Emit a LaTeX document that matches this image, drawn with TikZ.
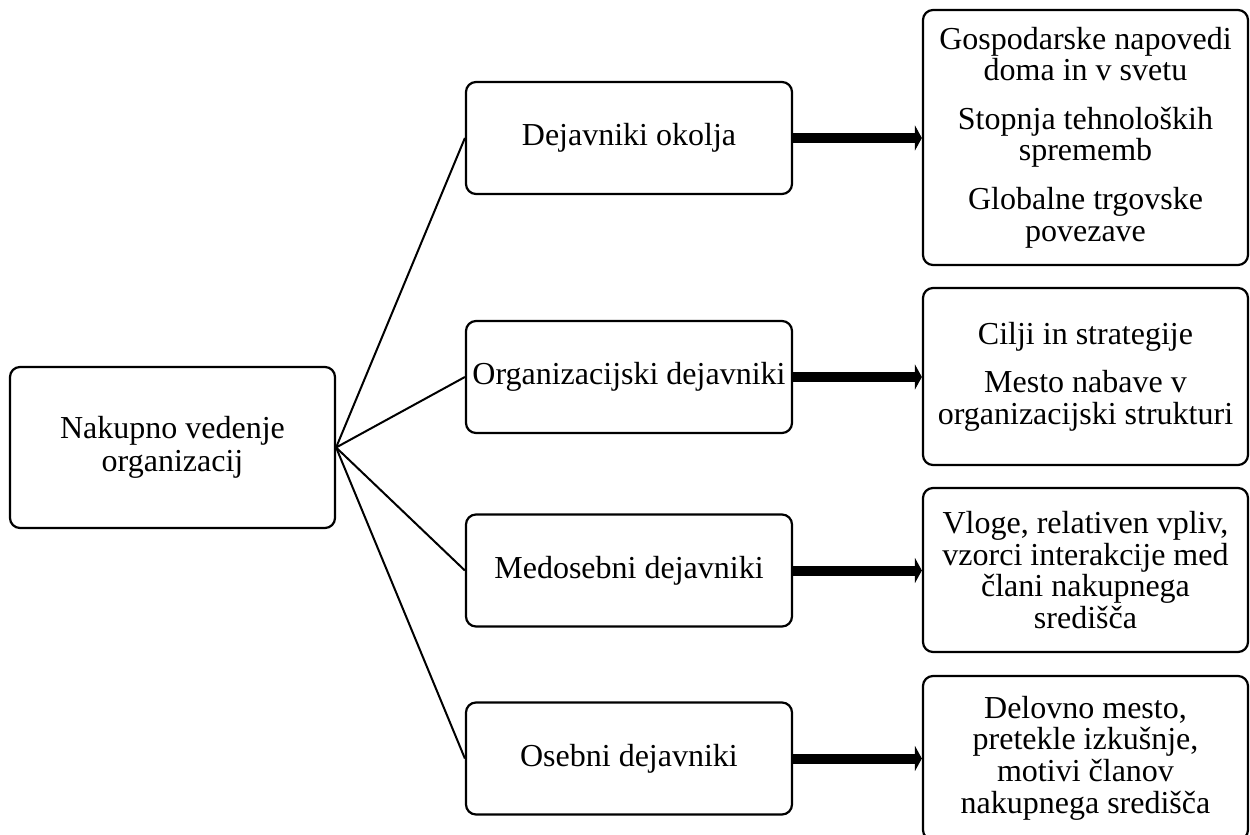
\documentclass[tikz,border=0pt]{standalone}
\usepackage{fontspec}
\setmainfont{Liberation Serif}
\usetikzlibrary{arrows.meta}
\begin{document}
\begin{tikzpicture}[x=0.5pt,y=-0.5pt,
  box/.style={draw, line width=1.1pt, rounded corners=5pt, inner sep=0pt, align=center,
    font=\fontsize{16pt}{15.8pt}\selectfont},
  link/.style={draw, line width=1pt},
  bigarrow/.style={draw, line width=5pt, -{Triangle[length=3.5pt,width=12.5pt]}}]
\path[use as bounding box, clip] (0,0) rectangle (1250,835);
% left box
\node[box, minimum width=162.5pt, minimum height=80.5pt] (main) at (172.5,447.5) {Nakupno vedenje\\[0.7pt]organizacij};
% middle boxes
\node[box, minimum width=163pt, minimum height=56pt] (m1) at (629,138) {Dejavniki okolja};
\node[box, minimum width=163pt, minimum height=56pt] (m2) at (629,377) {Organizacijski dejavniki};
\node[box, minimum width=163pt, minimum height=56pt] (m3) at (629,570.5) {Medosebni dejavniki};
\node[box, minimum width=163pt, minimum height=56pt] (m4) at (629,758.5) {Osebni dejavniki};
% right boxes
\node[box, minimum width=162.5pt, minimum height=127.5pt] (r1) at (1085.5,137.5)
  {Gospodarske napovedi\\doma in v svetu\\[8.5pt]Stopnja tehnoloških\\sprememb\\[8.5pt]Globalne trgovske\\povezave};
\node[box, minimum width=162.5pt, minimum height=88.5pt] (r2) at (1085.5,376.5)
  {Cilji in strategije\\[8.5pt]Mesto nabave v\\organizacijski strukturi};
\node[box, minimum width=162.5pt, minimum height=82pt] (r3) at (1085.5,570)
  {Vloge, relativen vpliv,\\vzorci interakcije med\\člani nakupnega\\središča};
\node[box, minimum width=162.5pt, minimum height=82pt] (r4) at (1085.5,758)
  {Delovno mesto,\\pretekle izkušnje,\\motivi članov\\nakupnega središča};
% connectors
\foreach \m in {m1,m2,m3,m4}
  \draw[link] (main.east) -- (\m.west);
\foreach \m/\r in {m1/r1,m2/r2,m3/r3,m4/r4}
  \draw[bigarrow] (\m.east) -- (\m.east -| \r.west);
\end{tikzpicture}
\end{document}
